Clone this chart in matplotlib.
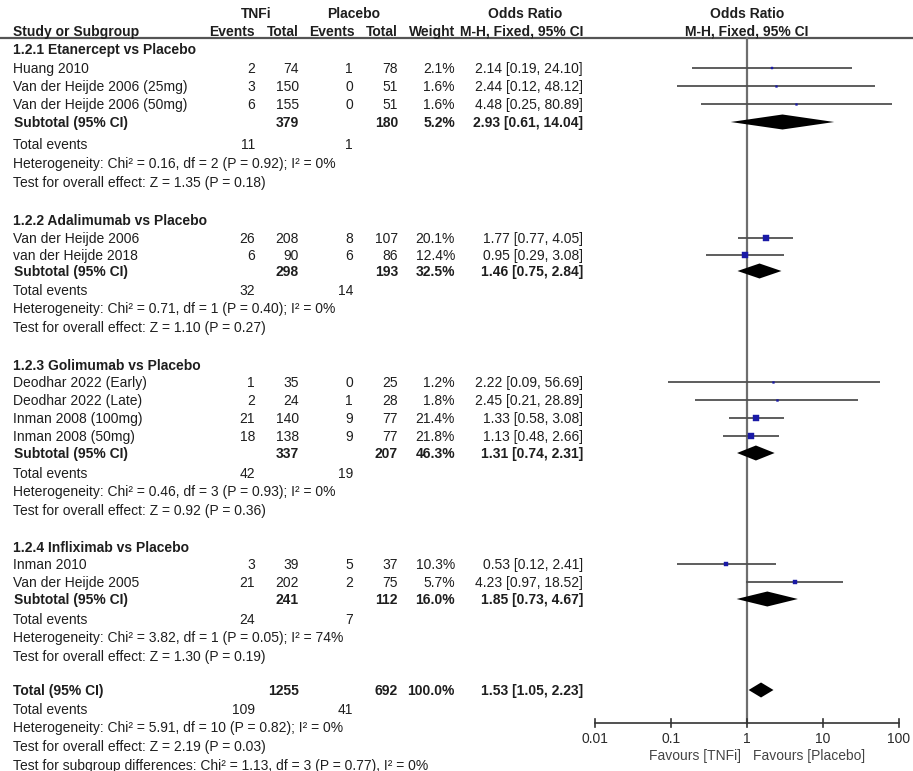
import matplotlib
matplotlib.use("Agg")
import matplotlib.pyplot as plt
import numpy as np

plt.rcParams['font.family'] = ['Liberation Sans', 'DejaVu Sans']

# ---------------- data ----------------
subgroups = ["1.2.1 Etanercept vs Placebo", "1.2.2 Adalimumab vs Placebo",
             "1.2.3 Golimumab vs Placebo", "1.2.4 Infliximab vs Placebo"]
study_names = ["Huang 2010", "Van der Heijde 2006 (25mg)", "Van der Heijde 2006 (50mg)",
               "Van der Heijde 2006", "van der Heijde 2018",
               "Deodhar 2022 (Early)", "Deodhar 2022 (Late)", "Inman 2008 (100mg)", "Inman 2008 (50mg)",
               "Inman 2010", "Van der Heijde 2005"]
study_group = [0, 0, 0, 1, 1, 2, 2, 2, 2, 3, 3]
tnfi_events = [2, 3, 6, 26, 6, 1, 2, 21, 18, 3, 21]
tnfi_total = [74, 150, 155, 208, 90, 35, 24, 140, 138, 39, 202]
pbo_events = [1, 0, 0, 8, 6, 0, 1, 9, 9, 5, 2]
pbo_total = [78, 51, 51, 107, 86, 25, 28, 77, 77, 37, 75]
weights = [2.1, 1.6, 1.6, 20.1, 12.4, 1.2, 1.8, 21.4, 21.8, 10.3, 5.7]
odds = [2.14, 2.44, 4.48, 1.77, 0.95, 2.22, 2.45, 1.33, 1.13, 0.53, 4.23]
ci_lo = [0.19, 0.12, 0.25, 0.77, 0.29, 0.09, 0.21, 0.58, 0.48, 0.12, 0.97]
ci_hi = [24.10, 48.12, 80.89, 4.05, 3.08, 56.69, 28.89, 3.08, 2.66, 2.41, 18.52]

sub_tnfi_total = [379, 298, 337, 241]
sub_pbo_total = [180, 193, 207, 112]
sub_weight = [5.2, 32.5, 46.3, 16.0]
sub_or = [2.93, 1.46, 1.31, 1.85]
sub_lo = [0.61, 0.75, 0.74, 0.73]
sub_hi = [14.04, 2.84, 2.31, 4.67]
sub_tnfi_events = [11, 32, 42, 24]
sub_pbo_events = [1, 14, 19, 7]
sub_het = ["Chi\u00b2 = 0.16, df = 2 (P = 0.92); I\u00b2 = 0%",
           "Chi\u00b2 = 0.71, df = 1 (P = 0.40); I\u00b2 = 0%",
           "Chi\u00b2 = 0.46, df = 3 (P = 0.93); I\u00b2 = 0%",
           "Chi\u00b2 = 3.82, df = 1 (P = 0.05); I\u00b2 = 74%"]
sub_z = ["Z = 1.35 (P = 0.18)", "Z = 1.10 (P = 0.27)", "Z = 0.92 (P = 0.36)", "Z = 1.30 (P = 0.19)"]

total_tnfi = 1255
total_pbo = 692
total_weight = 100.0
total_or = 1.53
total_lo = 1.05
total_hi = 2.23
total_tnfi_events = 109
total_pbo_events = 41
total_het = "Chi\u00b2 = 5.91, df = 10 (P = 0.82); I\u00b2 = 0%"
total_z = "Z = 2.19 (P = 0.03)"
subgroup_test = "Chi\u00b2 = 1.13, df = 3 (P = 0.77), I\u00b2 = 0%"

axis_ticks = [0.01, 0.1, 1, 10, 100]
axis_tick_labels = ["0.01", "0.1", "1", "10", "100"]

# ---------------- layout (pixels) ----------------
W, H = 913, 771
FS = 10
TXT = '#1e1e1e'
X_NAME = 13
X_EV1, X_TOT1, X_EV2, X_TOT2, X_W, X_CI = 255, 299, 353, 398, 455, 583
X_ONE = 747
HALF_CAP = 5.0

group_header_y = [49, 220, 365, 547]
study_y = [68, 86, 104, 238, 255, 382, 400, 418, 436, 564, 582]
sub_y = [122, 271, 453, 599]
sub_ev_y = [144, 290, 473, 619]
sub_het_y = [163, 308, 491, 637]
sub_z_y = [182, 327, 510, 656]
tot_y, tot_ev_y, tot_het_y, tot_z_y, tot_sub_y = 690, 709, 727, 746, 765

fig = plt.figure(figsize=(W / 100, H / 100), dpi=100)
ax = fig.add_axes([0, 0, 1, 1])
ax.set_xlim(0, W)
ax.set_ylim(H, 0)
ax.axis('off')

fx0, fx1 = 595, 899
ax2 = fig.add_axes([fx0 / W, 0, (fx1 - fx0) / W, 1])
ax2.set_xscale('log')
ax2.set_xlim(0.01, 100)
ax2.set_ylim(H, 0)
ax2.axis('off')


def t(x, y, s, ha='left', bold=False, a=ax, color=TXT):
    a.text(x, y + HALF_CAP, s, ha=ha, va='baseline', fontsize=FS, color=color,
           fontweight='bold' if bold else 'normal')


# headers
t((213 + X_TOT1) / 2, 13, "TNFi", ha='center', bold=True)
t((309 + X_TOT2) / 2, 13, "Placebo", ha='center', bold=True)
t((467 + X_CI) / 2, 13, "Odds Ratio", ha='center', bold=True)
t(X_ONE, 13, "Odds Ratio", ha='center', bold=True)
hy = 31
t(X_NAME, hy, "Study or Subgroup", bold=True)
t(X_EV1, hy, "Events", ha='right', bold=True)
t(X_TOT1, hy, "Total", ha='right', bold=True)
t(X_EV2 + 2, hy, "Events", ha='right', bold=True)
t(X_TOT2, hy, "Total", ha='right', bold=True)
t(X_W, hy, "Weight", ha='right', bold=True)
t(X_CI, hy, "M-H, Fixed, 95% CI", ha='right', bold=True)
t(X_ONE, hy, "M-H, Fixed, 95% CI", ha='center', bold=True)
ax.plot([0, W], [38, 38], color='#555555', lw=1.6, solid_capstyle='butt')

# studies
for i, name in enumerate(study_names):
    y = study_y[i]
    t(X_NAME, y, name)
    t(X_EV1, y, str(tnfi_events[i]), ha='right')
    t(X_TOT1, y, str(tnfi_total[i]), ha='right')
    t(X_EV2, y, str(pbo_events[i]), ha='right')
    t(X_TOT2, y, str(pbo_total[i]), ha='right')
    t(X_W, y, f"{weights[i]:.1f}%", ha='right')
    t(X_CI, y, f"{odds[i]:.2f} [{ci_lo[i]:.2f}, {ci_hi[i]:.2f}]", ha='right')
    ax2.plot([ci_lo[i], ci_hi[i]], [y, y], color='#505050', lw=1.3, clip_on=False, zorder=2,
             solid_capstyle='butt')
    ms = max(1.3, 4.8 * np.sqrt(weights[i] / 21.8))
    ax2.plot([odds[i]], [y], marker='s', ms=ms, color='#1a1aa6', mec='#1a1aa6', mew=0.3,
             clip_on=False, zorder=3)

# subgroup summaries
for g, name in enumerate(subgroups):
    t(X_NAME, group_header_y[g], name, bold=True)
    y = sub_y[g]
    t(X_NAME + 1, y, "Subtotal (95% CI)", bold=True)
    t(X_TOT1, y, str(sub_tnfi_total[g]), ha='right', bold=True)
    t(X_TOT2, y, str(sub_pbo_total[g]), ha='right', bold=True)
    t(X_W, y, f"{sub_weight[g]:.1f}%", ha='right', bold=True)
    t(X_CI, y, f"{sub_or[g]:.2f} [{sub_lo[g]:.2f}, {sub_hi[g]:.2f}]", ha='right', bold=True)
    ax2.fill([sub_lo[g], sub_or[g], sub_hi[g], sub_or[g]], [y, y - 7.5, y, y + 7.5],
             color='black', lw=0, zorder=3)
    t(X_NAME, sub_ev_y[g], "Total events")
    t(X_EV1, sub_ev_y[g], str(sub_tnfi_events[g]), ha='right')
    t(X_EV2, sub_ev_y[g], str(sub_pbo_events[g]), ha='right')
    t(X_NAME, sub_het_y[g], "Heterogeneity: " + sub_het[g])
    t(X_NAME, sub_z_y[g], "Test for overall effect: " + sub_z[g])

# overall total
t(X_NAME, tot_y, "Total (95% CI)", bold=True)
t(X_TOT1, tot_y, str(total_tnfi), ha='right', bold=True)
t(X_TOT2, tot_y, str(total_pbo), ha='right', bold=True)
t(X_W, tot_y, f"{total_weight:.1f}%", ha='right', bold=True)
t(X_CI, tot_y, f"{total_or:.2f} [{total_lo:.2f}, {total_hi:.2f}]", ha='right', bold=True)
ax2.fill([total_lo, total_or, total_hi, total_or], [tot_y, tot_y - 7.5, tot_y, tot_y + 7.5],
         color='black', lw=0, zorder=3)
t(X_NAME, tot_ev_y, "Total events")
t(X_EV1, tot_ev_y, str(total_tnfi_events), ha='right')
t(X_EV2, tot_ev_y, str(total_pbo_events), ha='right')
t(X_NAME, tot_het_y, "Heterogeneity: " + total_het)
t(X_NAME, tot_z_y, "Test for overall effect: " + total_z)
t(X_NAME, tot_sub_y, "Test for subgroup differences: " + subgroup_test)

# forest axis
AXY = 723
ax2.plot([1, 1], [38, AXY], color='#6e6e6e', lw=1.6, zorder=1, clip_on=False)
ax2.plot([axis_ticks[0], axis_ticks[-1]], [AXY, AXY], color='#333333', lw=1.2, clip_on=False)
for v, lab in zip(axis_ticks, axis_tick_labels):
    ax2.plot([v, v], [AXY - 4, AXY + 4], color='#333333', lw=1.2, clip_on=False)
    t(v, 738, lab, ha='center', a=ax2, color='#2a2a2a')
ax2.annotate("Favours [TNFi]", (1, 755 + HALF_CAP), xytext=(-4.3, 0), textcoords='offset points',
             ha='right', va='baseline', fontsize=FS, color='#444444')
ax2.annotate("Favours [Placebo]", (1, 755 + HALF_CAP), xytext=(4.3, 0), textcoords='offset points',
             ha='left', va='baseline', fontsize=FS, color='#444444')

fig.savefig("out.png", dpi=100)
